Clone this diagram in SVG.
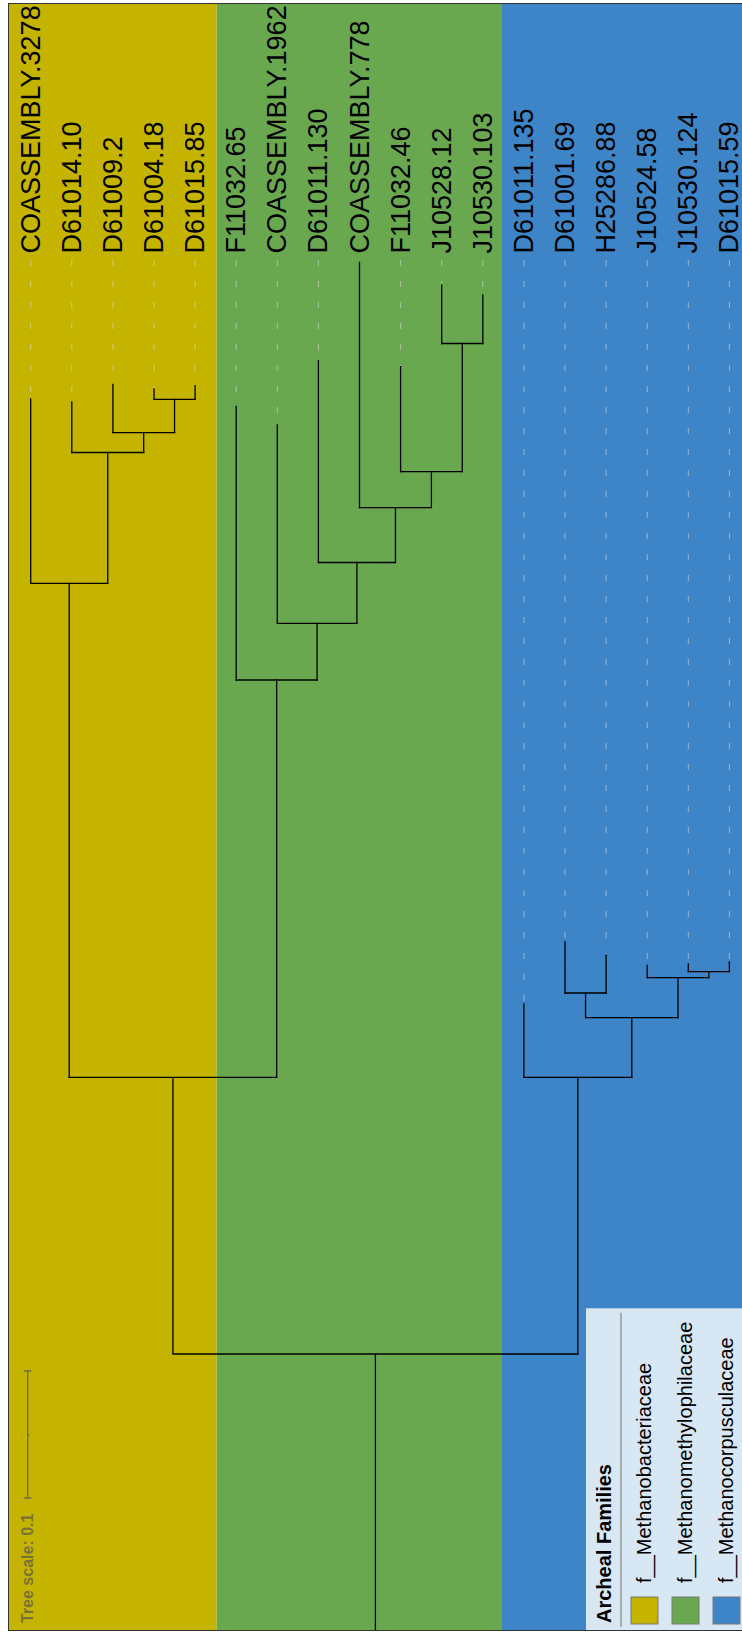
<svg xmlns="http://www.w3.org/2000/svg" width="742" height="1633" viewBox="0 0 742 1633">
<style>
.lbl{font-family:"Liberation Sans",Arial,sans-serif;font-size:27px;fill:#000}
.dash{stroke:#e0e0e0;stroke-opacity:0.55;stroke-width:1;stroke-dasharray:6,15;fill:none}
.br{stroke:#000;stroke-width:1.3;fill:none;stroke-linecap:square}
.leg{font-family:"Liberation Sans",Arial,sans-serif;font-size:20px;fill:#000}
.legt{font-family:"Liberation Sans",Arial,sans-serif;font-size:20px;font-weight:bold;fill:#000}
.sq{stroke:#777;stroke-width:1}
</style>
<g id="bands">
<rect x="8.5" y="3.5" width="208.2" height="1627" fill="#c4b400"/>
<rect x="216.7" y="3.5" width="285.3" height="1627" fill="#6aa84f"/>
<rect x="502" y="3.5" width="240" height="1627" fill="#3d85c6"/>
</g>
<g id="leaves">
<g id="leaf-COASSEMBLY.3278"><line class="dash" x1="30.7" y1="260" x2="30.7" y2="399"/><text class="lbl" transform="translate(39.7,253.5) rotate(-90)">COASSEMBLY.3278</text></g>
<g id="leaf-D61014.10"><line class="dash" x1="71.8" y1="260" x2="71.8" y2="402"/><text class="lbl" transform="translate(80.8,253.5) rotate(-90)">D61014.10</text></g>
<g id="leaf-D61009.2"><line class="dash" x1="112.9" y1="260" x2="112.9" y2="384.5"/><text class="lbl" transform="translate(121.9,253.5) rotate(-90)">D61009.2</text></g>
<g id="leaf-D61004.18"><line class="dash" x1="154" y1="260" x2="154" y2="389"/><text class="lbl" transform="translate(163,253.5) rotate(-90)">D61004.18</text></g>
<g id="leaf-D61015.85"><line class="dash" x1="195.1" y1="260" x2="195.1" y2="385.7"/><text class="lbl" transform="translate(204.1,253.5) rotate(-90)">D61015.85</text></g>
<g id="leaf-F11032.65"><line class="dash" x1="236.2" y1="260" x2="236.2" y2="406.5"/><text class="lbl" transform="translate(245.2,253.5) rotate(-90)">F11032.65</text></g>
<g id="leaf-COASSEMBLY.1962"><line class="dash" x1="277.3" y1="260" x2="277.3" y2="425"/><text class="lbl" transform="translate(286.3,253.5) rotate(-90)">COASSEMBLY.1962</text></g>
<g id="leaf-D61011.130"><line class="dash" x1="318.4" y1="260" x2="318.4" y2="360.7"/><text class="lbl" transform="translate(327.4,253.5) rotate(-90)">D61011.130</text></g>
<g id="leaf-COASSEMBLY.778"><text class="lbl" transform="translate(368.5,253.5) rotate(-90)">COASSEMBLY.778</text></g>
<g id="leaf-F11032.46"><line class="dash" x1="400.6" y1="260" x2="400.6" y2="366.7"/><text class="lbl" transform="translate(409.6,253.5) rotate(-90)">F11032.46</text></g>
<g id="leaf-J10528.12"><line class="dash" x1="441.7" y1="260" x2="441.7" y2="285"/><text class="lbl" transform="translate(450.7,253.5) rotate(-90)">J10528.12</text></g>
<g id="leaf-J10530.103"><line class="dash" x1="482.8" y1="260" x2="482.8" y2="295"/><text class="lbl" transform="translate(491.8,253.5) rotate(-90)">J10530.103</text></g>
<g id="leaf-D61011.135"><line class="dash" x1="523.9" y1="260" x2="523.9" y2="1004"/><text class="lbl" transform="translate(532.9,253.5) rotate(-90)">D61011.135</text></g>
<g id="leaf-D61001.69"><line class="dash" x1="565" y1="260" x2="565" y2="941.7"/><text class="lbl" transform="translate(574,253.5) rotate(-90)">D61001.69</text></g>
<g id="leaf-H25286.88"><line class="dash" x1="606.1" y1="260" x2="606.1" y2="955"/><text class="lbl" transform="translate(615.1,253.5) rotate(-90)">H25286.88</text></g>
<g id="leaf-J10524.58"><line class="dash" x1="647.2" y1="260" x2="647.2" y2="965.3"/><text class="lbl" transform="translate(656.2,253.5) rotate(-90)">J10524.58</text></g>
<g id="leaf-J10530.124"><line class="dash" x1="688.3" y1="260" x2="688.3" y2="964"/><text class="lbl" transform="translate(697.3,253.5) rotate(-90)">J10530.124</text></g>
<g id="leaf-D61015.59"><line class="dash" x1="729.4" y1="260" x2="729.4" y2="962"/><text class="lbl" transform="translate(738.4,253.5) rotate(-90)">D61015.59</text></g>
</g>
<g id="connectors">
<path class="br" d="M30.7,399V583.3 M71.8,402V452.5 M112.9,384.5V432.7 M154,389V399.3 M195.1,385.7V399.3 M174.55,399.3V432.7 M143.7,432.7V452.5 M107.75,452.5V583.3 M69.2,583.3V1077.3"/>
<path class="br" d="M154,399.3H195.1 M112.9,432.7H174.55 M71.8,452.5H143.7 M30.7,583.3H107.75"/>
<path class="br" d="M236.2,406.5V680 M277.3,425V623.3 M318.4,360.7V562.5 M359.5,262.3V507.7 M400.6,366.7V471.7 M441.7,285V343.5 M482.8,295V343.5 M462.25,343.5V471.7 M431.4,471.7V507.7 M395.45,507.7V562.5 M356.9,562.5V623.3 M317.1,623.3V680 M276.65,680V1077.3"/>
<path class="br" d="M441.7,343.5H482.8 M400.6,471.7H462.25 M359.5,507.7H431.4 M318.4,562.5H395.45 M277.3,623.3H356.9 M236.2,680H317.1"/>
<path class="br" d="M523.9,1004V1077.3 M565,941.7V993 M606.1,955V993 M585.55,993V1017.7 M647.2,965.3V977.7 M688.3,964V971.7 M729.4,962V971.7 M708.85,971.7V977.7 M678,977.7V1017.7 M631.8,1017.7V1077.3 M577.85,1077.3V1354"/>
<path class="br" d="M565,993H606.1 M688.3,971.7H729.4 M647.2,977.7H708.85 M585.55,1017.7H678 M523.9,1077.3H631.8"/>
<path class="br" d="M69.2,1077.3H276.65 M172.9,1077.3V1354 M172.9,1354H577.85 M375.4,1354V1630"/>
</g>
<g id="tree-scale">
<path d="M27.7,1371V1498 M24,1371H31.4 M24,1498H31.4 M27.7,1435H29.5" stroke="#555" stroke-opacity="0.75" stroke-width="1.4" fill="none"/>
<text transform="translate(32.5,1623) rotate(-90)" font-family="Liberation Sans,Arial,sans-serif" font-size="16" font-weight="bold" fill="#555" fill-opacity="0.7">Tree scale: 0.1</text>
</g>
<g id="legend">
<rect x="586" y="1308.3" width="156" height="322" fill="#d8e7f4"/>
<text class="legt" transform="translate(611,1623) rotate(-90)">Archeal Families</text>
<line x1="621" y1="1312.7" x2="621" y2="1626.7" stroke="#999" stroke-width="1.5"/>
<rect class="sq" x="631" y="1597" width="27" height="27" fill="#c4b400"/>
<text class="leg" transform="translate(651,1583) rotate(-90)">f__Methanobacteriaceae</text>
<rect class="sq" x="672" y="1597" width="27" height="27" fill="#6aa84f"/>
<text class="leg" transform="translate(692,1583) rotate(-90)">f__Methanomethylophilaceae</text>
<rect class="sq" x="713" y="1597" width="27" height="27" fill="#3d85c6"/>
<text class="leg" transform="translate(733,1583) rotate(-90)">f__Methanocorpusculaceae</text>
</g>
<rect x="8.5" y="3.5" width="740" height="1627" fill="none" stroke="#333" stroke-width="1"/>
</svg>
